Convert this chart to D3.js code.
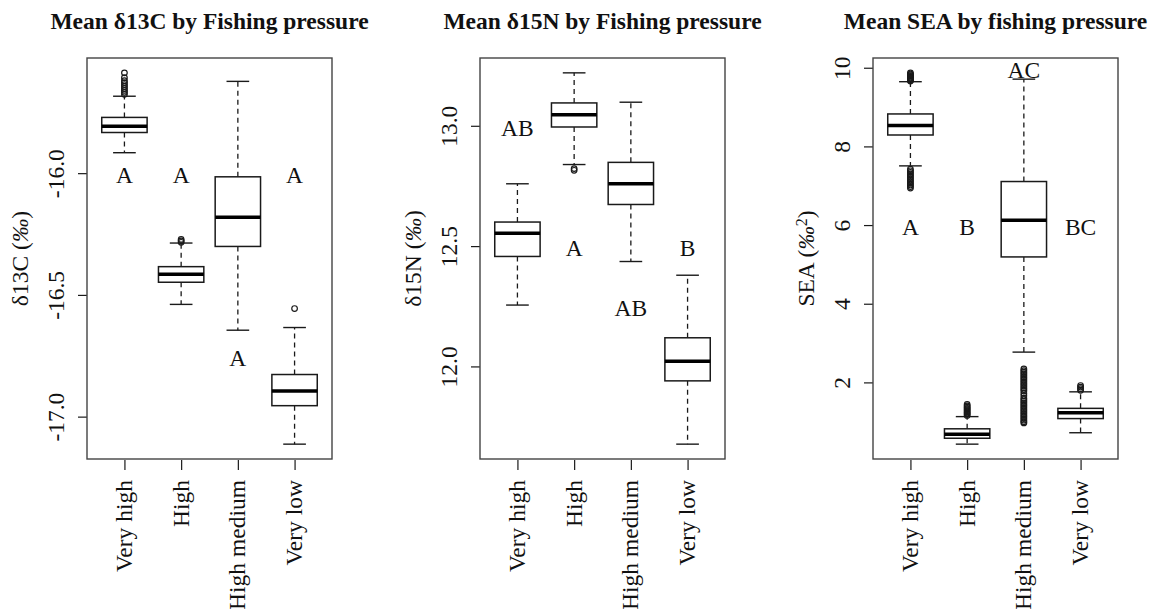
<!DOCTYPE html>
<html>
<head>
<meta charset="utf-8">
<script src="https://cdn.jsdelivr.net/npm/d3@7"></script>
<style>
  html, body { margin: 0; padding: 0; background: #fff; }
  svg { display: block; }
  text { font-family: "Liberation Serif", "Times New Roman", serif; fill: #111; }
</style>
</head>
<body>
<svg id="chart" width="1150" height="609"></svg>
<script>
// Fishing pressure groups (shared by all three panels)
const categories = ["Very high", "High", "High medium", "Very low"];

// Mean δ13C: box statistics per group
const c13Low  = [-15.916, -16.539, -16.645, -17.113];
const c13Q1   = [-15.833, -16.448, -16.301, -16.955];
const c13Med  = [-15.807, -16.415, -16.181, -16.895];
const c13Q3   = [-15.771, -16.384, -16.015, -16.827];
const c13High = [-15.684, -16.287, -15.623, -16.634];
const c13Out  = [
  [-15.588, -15.608, -15.620, -15.628, -15.636, -15.644, -15.652, -15.660, -15.668, -15.676],
  [-16.284, -16.278, -16.272],
  [],
  [-16.556]
];
const c13Letters = ["A", "A", "A", "A"];
const c13LetterAt = [-16.0, -16.0, -16.75, -16.0];
const c13Ticks = [-17.0, -16.5, -16.0];
const c13TickLabels = ["-17.0", "-16.5", "-16.0"];

// Mean δ15N: box statistics per group
const n15Low  = [12.255, 12.839, 12.436, 11.677];
const n15Q1   = [12.457, 12.995, 12.673, 11.940];
const n15Med  = [12.553, 13.046, 12.759, 12.021];
const n15Q3   = [12.600, 13.095, 12.848, 12.119];
const n15High = [12.759, 13.220, 13.098, 12.379];
const n15Out  = [[], [12.822, 12.815], [], []];
const n15Letters = ["AB", "A", "AB", "B"];
const n15LetterAt = [13.0, 12.5, 12.25, 12.5];
const n15Ticks = [12.0, 12.5, 13.0];
const n15TickLabels = ["12.0", "12.5", "13.0"];

// Mean SEA: box statistics per group
const seaLow  = [7.505, 0.43, 2.77, 0.72];
const seaQ1   = [8.29, 0.58, 5.19, 1.08];
const seaMed  = [8.53, 0.68, 6.12, 1.23];
const seaQ3   = [8.825, 0.82, 7.107, 1.34];
const seaHigh = [9.645, 1.13, 9.71, 1.76];
const seaOut  = [
  [9.66, 9.68, 9.70, 9.72, 9.74, 9.76, 9.78, 9.80, 9.82, 9.84, 9.87,
   7.42, 7.38, 7.34, 7.30, 7.26, 7.22, 7.18, 7.14, 7.10, 7.06, 7.02, 6.98, 6.94],
  [1.16, 1.19, 1.22, 1.25, 1.28, 1.31, 1.34, 1.37, 1.40, 1.44],
  [2.34, 2.30, 2.26, 2.22, 2.18, 2.14, 2.10, 2.06, 2.02, 1.98, 1.94, 1.90, 1.86,
   1.82, 1.78, 1.72, 1.66, 1.60, 1.56, 1.52, 1.48, 1.44, 1.40, 1.36, 1.32, 1.28,
   1.24, 1.20, 1.16, 1.12, 1.08, 1.04, 1.00, 0.97],
  [1.80, 1.84, 1.88, 1.92]
];
const seaLetters = ["A", "B", "AC", "BC"];
const seaLetterAt = [6, 6, 10, 6];
const seaTicks = [2, 4, 6, 8, 10];
const seaTickLabels = ["2", "4", "6", "8", "10"];

const panels = [
  { title: "Mean δ13C by Fishing pressure", ylab: ["δ13C (", "‰", ")", ""],
    low: c13Low, q1: c13Q1, med: c13Med, q3: c13Q3, high: c13High, out: c13Out,
    letters: c13Letters, letterAt: c13LetterAt, ticks: c13Ticks, tickLabels: c13TickLabels },
  { title: "Mean δ15N by Fishing pressure", ylab: ["δ15N (", "‰", ")", ""],
    low: n15Low, q1: n15Q1, med: n15Med, q3: n15Q3, high: n15High, out: n15Out,
    letters: n15Letters, letterAt: n15LetterAt, ticks: n15Ticks, tickLabels: n15TickLabels },
  { title: "Mean SEA by fishing pressure", ylab: ["SEA (", "‰", ")", "2"],
    low: seaLow, q1: seaQ1, med: seaMed, q3: seaQ3, high: seaHigh, out: seaOut,
    letters: seaLetters, letterAt: seaLetterAt, ticks: seaTicks, tickLabels: seaTickLabels }
];

const svg = d3.select("#chart");
const plotTop = 58, plotBottom = 459, panelW = 245, firstLeft = 87, step = 393;
const fontSize = 23.5;
const serif = '"Liberation Serif", "Times New Roman", serif';
const ink = "#1a1a1a";

panels.forEach((p, pi) => {
  const left = firstLeft + step * pi;
  const right = left + panelW;

  // y range: data extent padded by 4% on each side
  const all = [].concat(p.low, p.high, ...p.out);
  const lo = d3.min(all), hi = d3.max(all);
  const pad = (hi - lo) * 0.04;
  const y = d3.scaleLinear().domain([lo - pad, hi + pad]).range([plotBottom, plotTop]);
  // x range: group positions 1..4 inside [0.5, 4.5] padded by 4%
  const x = d3.scaleLinear().domain([0.5 - 0.16, 4.5 + 0.16]).range([left, right]);

  const g = svg.append("g");

  // Title
  g.append("text")
    .attr("x", (left + right) / 2).attr("y", 29)
    .attr("text-anchor", "middle")
    .style("font-weight", "bold").style("font-size", "23.5px")
    .text(p.title);

  // Y axis label
  const yl = g.append("text")
    .attr("transform", `translate(${left - 59},${(plotTop + plotBottom) / 2}) rotate(-90)`)
    .attr("text-anchor", "middle")
    .style("font-size", fontSize + "px");
  yl.append("tspan").text(p.ylab[0]);
  yl.append("tspan").style("font-style", "italic").text(p.ylab[1]);
  if (p.ylab[3]) yl.append("tspan").attr("dy", "-0.45em").style("font-size", "16px").text(p.ylab[3]);
  yl.append("tspan").attr("dy", p.ylab[3] ? "0.3em" : null).text(p.ylab[2]);

  // Y axis
  const ya = g.append("g")
    .attr("transform", `translate(${left},0)`)
    .call(d3.axisLeft(y).tickValues(p.ticks).tickSize(9)
      .tickFormat((d, i) => p.tickLabels[i]))
    .attr("font-family", serif)
    .attr("font-size", fontSize);
  ya.select(".domain").remove();
  ya.selectAll("line").attr("stroke", ink).attr("stroke-width", 1.2);
  ya.selectAll("text")
    .attr("x", null).attr("dy", null)
    .attr("transform", "translate(-23,0) rotate(-90)")
    .attr("text-anchor", "middle")
    .attr("fill", "#111");

  // X axis
  const xa = g.append("g")
    .attr("transform", `translate(0,${plotBottom + 1})`)
    .call(d3.axisBottom(x).tickValues([1, 2, 3, 4]).tickSize(10)
      .tickFormat(d => categories[d - 1]))
    .attr("font-family", serif)
    .attr("font-size", fontSize);
  xa.select(".domain").remove();
  xa.selectAll("line").attr("stroke", ink).attr("stroke-width", 1.2);
  xa.selectAll("text")
    .attr("y", null).attr("dy", null)
    .attr("transform", "translate(7,20) rotate(-90)")
    .attr("text-anchor", "end")
    .attr("fill", "#111");

  // Boxes
  categories.forEach((c, i) => {
    const cx = x(i + 1);
    const bw = x(1.4) - x(1);        // half box width
    const sw = x(1.2) - x(1);        // half staple width
    const bg = g.append("g");

    // whiskers
    bg.append("line").attr("x1", cx).attr("x2", cx)
      .attr("y1", y(p.q3[i])).attr("y2", y(p.high[i]))
      .attr("stroke", ink).attr("stroke-width", 1.3).attr("stroke-dasharray", "5,4");
    bg.append("line").attr("x1", cx).attr("x2", cx)
      .attr("y1", y(p.q1[i])).attr("y2", y(p.low[i]))
      .attr("stroke", ink).attr("stroke-width", 1.3).attr("stroke-dasharray", "5,4");
    // staples
    [p.high[i], p.low[i]].forEach(v => {
      bg.append("line").attr("x1", cx - sw).attr("x2", cx + sw)
        .attr("y1", y(v)).attr("y2", y(v))
        .attr("stroke", ink).attr("stroke-width", 1.4);
    });
    // box
    bg.append("rect")
      .attr("x", cx - bw).attr("width", 2 * bw)
      .attr("y", y(p.q3[i])).attr("height", y(p.q1[i]) - y(p.q3[i]))
      .attr("fill", "#fff").attr("stroke", ink).attr("stroke-width", 1.5);
    // median
    bg.append("line").attr("x1", cx - bw).attr("x2", cx + bw)
      .attr("y1", y(p.med[i])).attr("y2", y(p.med[i]))
      .attr("stroke", "#000").attr("stroke-width", 3.5);
    // outliers
    bg.selectAll("circle.out").data(p.out[i]).enter().append("circle")
      .attr("class", "out")
      .attr("cx", cx).attr("cy", d => y(d)).attr("r", 2.8)
      .attr("fill", "none").attr("stroke", ink).attr("stroke-width", 1.2);

    // group letter
    g.append("text")
      .attr("x", cx).attr("y", y(p.letterAt[i]) + 10)
      .attr("text-anchor", "middle")
      .style("font-size", fontSize + "px")
      .text(p.letters[i]);
  });

  // Plot frame
  g.append("rect")
    .attr("x", left).attr("y", plotTop)
    .attr("width", panelW).attr("height", plotBottom - plotTop)
    .attr("fill", "none").attr("stroke", "#444").attr("stroke-width", 1.4);
});
</script>
</body>
</html>
